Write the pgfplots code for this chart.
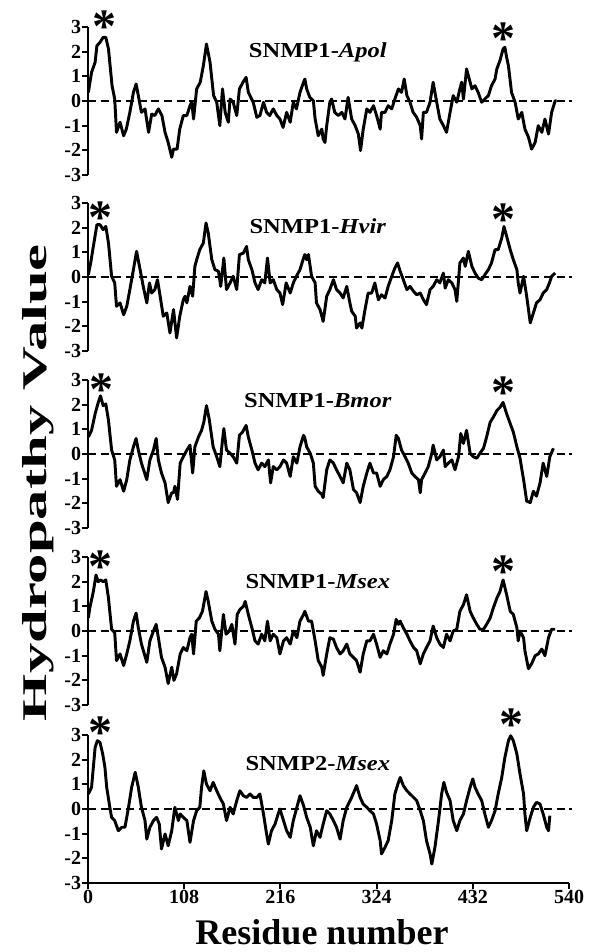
\documentclass[border=0pt]{standalone}
\usepackage{pgfplots}
\pgfplotsset{compat=1.18}
\usepackage{fontspec}
\setmainfont{Liberation Serif}
\usepackage{graphicx}

\newcommand{\ticfont}{\fontsize{15}{15}\selectfont\bfseries}
\newcommand{\ttl}[1]{\scalebox{1.15}[1]{\fontsize{16}{16}\selectfont\bfseries #1}}
\newcommand{\astk}{\fontsize{36}{36}\selectfont\bfseries *}

\pgfplotsset{
  panel/.style={
    scale only axis, width=360.75pt, height=111pt, anchor=south west,
    xmin=0, xmax=540, ymin=-3, ymax=3,
    axis y line*=left,
    ytick={-3,-2,...,3}, yticklabels={-3,-2,-1,0,1,2,3},
    tick align=outside, major tick length=4.5pt,
    axis line style={line width=1.5pt, black},
    major tick style={line width=1.5pt, black},
    yticklabel style={font=\ticfont, inner sep=0.5pt},
    clip=false,
  },
  top/.style={axis x line=none},
  zero/.style={black, line width=1.5pt, dash pattern=on 6pt off 3.5pt},
  curve/.style={black, line width=2.2pt, line join=round},
}
\tikzset{ast/.style={anchor=base, yshift=-17pt, inner sep=0pt}}

\begin{document}
\begin{tikzpicture}
\path[use as bounding box] (0,0) rectangle (442.5pt,-714pt);

% ---- SNMP1-Apol
\begin{axis}[panel, top, at={(66pt,-131.25pt)}]
\addplot[zero] coordinates {(0,0)(543,0)};
\addplot[curve] coordinates {
(0.4,0.35)(4,1.16)(8,1.57)(10,2.24)(13.5,2.38)(17,2.58)(20,2.58)(23,2.11)(27,0.62)(30,0.08)
(32,-1.27)(36,-0.86)(40,-1.41)(43,-1.14)(47,-0.46)(51,0.35)(54,0.69)(56.5,0.22)(60,-0.46)(64,-0.32)
(68,-1.27)(71.5,-0.53)(75,-0.59)(79,-0.32)(83,-0.59)(86.5,-1.27)(90,-1.68)(94,-2.28)(96,-1.95)(100,-1.95)
(103,-1.14)(107,-0.59)(111,-0.59)(114.5,-0.19)(116.5,-0.05)(118.5,-0.73)(122,0.49)(126,0.76)(129.5,1.43)(133,2.31)
(137,1.57)(141,0.22)(144.5,-0.05)(148,-1.0)(151,0.49)(154,-0.46)(157.5,-0.86)(159.5,0.08)(163,-0.05)(167,-0.59)
(170,0.49)(174,0.76)(177.5,0.96)(180,0.35)(185.5,-0.05)(189.5,-0.66)(193,-0.59)(197,-0.05)(200.5,-0.46)(204,-0.59)
(208,-0.32)(212,-0.59)(215.5,-0.73)(219,-1.07)(223,-0.46)(227,-0.86)(230.5,-0.05)(234,-0.32)(238,0.35)(242,0.76)
(243.5,0.89)(245.5,0.49)(249,0.15)(253,0.01)(255,-0.73)(258.5,-1.41)(262.5,-1.14)(264,-1.54)(266,-1.68)(268,-1.0)
(271.5,-0.05)(273.5,0.08)(277,-0.46)(281,-0.59)(285,-0.46)(288.5,-0.73)(292,0.15)(296,-0.73)(300,-1.0)(303.5,-1.34)
(306,-2.01)(309,-1.14)(313,-0.32)(316.5,-0.46)(320.5,-0.19)(324,-0.59)(328,-1.14)(329.5,-0.46)(333.5,-0.46)(337,-0.19)
(341,-0.32)(344.5,0.08)(348.5,0.49)(352,0.35)(355,0.89)(358,0.22)(361.5,-0.05)(365,-0.46)(369,-0.66)(373,-1.0)
(374.5,-1.54)(376.5,-0.46)(380,-0.46)(384,-0.05)(387.5,0.76)(391.5,-0.05)(395,-0.73)(399,-1.0)(402.5,-1.27)(406.5,-0.46)
(410,0.22)(414,-0.05)(417.5,0.49)(419.5,0.76)(421.5,0.08)(425,1.30)(429,0.76)(431,0.49)(434.5,0.62)(438,0.35)
(442,-0.05)(445.5,0.08)(449.5,0.22)(453,0.62)(457,0.89)(459,1.30)(462.5,1.64)(466,2.11)(468,2.18)(470,1.77)
(472,1.43)(475.5,0.35)(479.5,-0.05)(483,-0.73)(487,-0.46)(490.5,-1.14)(494.5,-1.47)(498,-1.95)(502,-1.68)(505.5,-1.0)
(509.5,-1.27)(513,-0.73)(517,-1.34)(520.5,-0.46)(524.5,0.01)(526,0.01)};
\node[ast] at (axis cs:19,3.28) {\astk};
\node[ast] at (axis cs:466,2.8) {\astk};
\node at (axis cs:258,1.97) {\ttl{SNMP1-\textit{Apol}}};
\end{axis}

% ---- SNMP1-Hvir
\begin{axis}[panel, top, at={(66pt,-263.25pt)}]
\addplot[zero] coordinates {(0,0)(543,0)};
\addplot[curve] coordinates {
(0.4,0.09)(3,0.57)(6,1.24)(10,2.12)(13.5,2.12)(17,1.92)(20,2.05)(23,1.38)(26.5,0.03)(30,-0.24)
(32,-1.19)(36,-1.05)(40,-1.53)(43.5,-1.19)(47,-0.51)(51,0.30)(54.5,1.04)(58.5,0.30)(62,-0.38)(66,-1.05)
(69,-0.24)(71.5,-0.65)(75,-0.51)(78,-0.11)(81,-0.78)(84.5,-1.59)(88.5,-1.46)(92,-2.27)(96,-1.32)(99.5,-2.47)
(103,-1.59)(107,-0.92)(109,-0.78)(111,-1.05)(114.5,-0.38)(117.5,-0.78)(120,0.43)(122,0.70)(125.5,1.11)(129.5,1.38)
(132.5,2.19)(135,1.78)(139,0.70)(142.5,0.30)(146.5,0.23)(149,-0.38)(152.5,0.77)(155.5,-0.51)(159.5,-0.24)(163,0.03)
(167,-0.51)(170,0.91)(174.5,0.97)(178,1.24)(180,0.70)(184,0.30)(187.5,-0.24)(191,-0.51)(195,-0.11)(198.5,-0.24)
(201.5,0.77)(204.5,-0.24)(208,-0.11)(212,-0.51)(215.5,-0.65)(218.5,-1.12)(222.5,-0.24)(227,-0.65)(230.5,-0.24)(234,0.03)
(238,0.30)(242,0.77)(243.5,0.91)(245.5,0.70)(247.5,0.91)(251,0.03)(255,-0.24)(256.5,-1.05)(260.5,-1.32)(262.5,-1.59)
(264,-1.80)(268,-0.78)(271.5,-0.51)(275.5,-0.11)(279,-0.51)(283,-0.65)(286.5,-0.85)(290.5,-0.38)(294,-1.05)(296,-1.39)
(300,-1.59)(301.5,-2.07)(305.5,-1.86)(307.5,-2.07)(311,-1.32)(314.5,-0.65)(318.5,-0.65)(322,-0.24)(326,-0.92)(329.5,-0.72)
(333.5,-0.85)(337,-0.38)(341,0.03)(344.5,0.36)(347.5,0.57)(350.5,0.23)(354,-0.11)(358,-0.51)(361.5,-0.38)(365.5,-0.58)
(369,-0.72)(373,-0.65)(376.5,-0.92)(380,-1.12)(384,-0.51)(387.5,-0.38)(391.5,-0.11)(395,-0.24)(399,0.16)(401,-0.45)
(404.5,-0.11)(408.5,-0.24)(412,-0.51)(414,-0.99)(416,-0.11)(417.5,0.57)(421.5,0.77)(423.5,0.43)(427,1.04)(431,0.43)
(434.5,0.16)(438,-0.04)(442,-0.11)(445.5,0.09)(449.5,0.30)(453,0.57)(457,1.11)(460.5,1.11)(464.5,1.58)(467,2.05)
(470,1.65)(474,1.11)(477.5,0.70)(481.5,0.30)(483,-0.24)(485,-0.65)(489,0.03)(492.5,-0.78)(496.5,-1.86)(500,-1.46)
(503.5,-1.05)(507.5,-0.92)(511,-0.65)(515,-0.51)(518,-0.24)(520.5,0.03)(524.5,0.16)};
\node[ast] at (axis cs:13.5,2.7) {\astk};
\node[ast] at (axis cs:466,2.6) {\astk};
\node at (axis cs:258,2.06) {\ttl{SNMP1-\textit{Hvir}}};
\end{axis}

% ---- SNMP1-Bmor
\begin{axis}[panel, top, at={(66pt,-396pt)}]
\addplot[zero] coordinates {(0,0)(543,0)};
\addplot[curve] coordinates {
(0.4,0.69)(4,0.96)(8,1.63)(11.5,2.09)(14,2.36)(17,1.96)(20,2.03)(23,1.36)(26.5,0.16)(30,-0.24)
(32,-1.31)(36,-1.04)(40,-1.51)(43.5,-1.04)(47,-0.24)(51,0.29)(54,0.63)(56.5,0.16)(60,-0.37)(66,-1.04)
(69.5,-0.24)(73.5,0.16)(76.5,0.63)(79,-0.24)(82.5,-0.77)(86.5,-1.17)(90,-1.97)(94,-1.57)(96,-1.57)(97.5,-1.31)
(100.5,-1.84)(103.5,-0.37)(107,-0.11)(111,0.16)(114.5,0.36)(117.5,-0.77)(120,0.29)(124,0.69)(127.5,0.96)(130,1.29)
(133,1.96)(136,1.43)(140.5,0.29)(144.5,-0.11)(148,-0.51)(151,0.56)(152.5,1.03)(155.5,0.16)(159.5,0.03)(163,-0.11)
(167,-0.37)(170,0.76)(173.5,0.89)(177.5,1.16)(180,0.69)(184,0.16)(187.5,-0.37)(191,-0.64)(195,-0.37)(198.5,-0.51)
(202.5,-0.24)(205,-1.17)(208,-0.51)(212,-0.64)(215.5,-0.51)(219.5,-0.24)(223,-0.37)(227,-0.91)(230.5,-0.11)(234.5,-0.37)
(238,0.29)(242,0.76)(243.5,0.63)(245.5,0.29)(249.5,0.03)(253,-0.37)(255,-1.31)(258.5,-1.51)(262.5,-1.64)(264,-1.77)
(268,-0.64)(271.5,-0.24)(275.5,-0.37)(279,-0.64)(283,-0.91)(286.5,-1.17)(290.5,-0.37)(294,-0.64)(298,-1.44)(301.5,-1.57)
(305.5,-1.97)(309,-1.31)(313,-0.77)(316.5,-0.37)(320.5,-0.77)(324,-0.77)(328,-1.31)(331.5,-1.04)(335.5,-0.91)(339,-0.64)
(343,-0.11)(346,0.76)(348.5,0.63)(352,0.16)(356,-0.11)(359.5,-0.37)(363.5,-0.77)(367,-0.91)(371,-1.04)(373,-1.57)
(374.5,-1.04)(378.5,-0.77)(382,-0.51)(386,0.03)(387.5,0.36)(391.5,-0.24)(395,-0.11)(399,0.16)(401,-0.51)(404.5,-0.37)
(408.5,-0.24)(412,-0.64)(416,-0.11)(418.5,0.83)(421.5,0.43)(425,0.96)(429,0.03)(432.5,-0.11)(436.5,-0.17)(440,0.03)
(444,0.23)(447.5,0.69)(451.5,1.29)(455,1.49)(459,1.76)(462.5,1.89)(466,2.09)(470,1.63)(474,1.23)(477.5,0.89)
(481.5,0.29)(485,-0.17)(489,-1.04)(492.5,-1.91)(496.5,-1.97)(500,-1.51)(503.5,-1.71)(507.5,-1.17)(511,-0.37)(515,-0.91)
(518.5,-0.11)(522.5,0.23)};
\node[ast] at (axis cs:15,2.87) {\astk};
\node[ast] at (axis cs:466,2.75) {\astk};
\node at (axis cs:258,2.15) {\ttl{SNMP1-\textit{Bmor}}};
\end{axis}

% ---- SNMP1-Msex
\begin{axis}[panel, top, at={(66pt,-528.75pt)}]
\addplot[zero] coordinates {(0,0)(543,0)};
\addplot[curve] coordinates {
(0.4,0.53)(2,0.93)(6,1.60)(9,2.27)(11.5,2.00)(14,2.07)(17,2.00)(20,2.07)(23,1.33)(26.5,0.07)(30,-0.07)
(32,-1.20)(36,-0.93)(40,-1.40)(43.5,-0.93)(47,-0.40)(51,0.40)(54,0.73)(56.5,0.13)(60,-0.53)(66,-1.27)
(69.5,-0.40)(73.5,0.00)(76.5,0.27)(79,-0.27)(82.5,-1.07)(86.5,-1.47)(90,-2.13)(94,-1.47)(96.5,-2.00)(99.5,-1.73)
(103.5,-0.93)(107,-0.67)(111,-0.80)(114.5,-0.27)(116.5,-0.13)(118.5,-0.93)(121.5,0.40)(125,0.53)(128.5,0.80)(132.5,1.60)
(135,1.20)(139,0.40)(142.5,0.07)(146.5,-0.13)(148,-0.80)(152,0.67)(155,-0.13)(158.5,0.00)(161.5,0.27)(165,-0.53)
(167.5,0.67)(170.5,0.87)(174.5,1.00)(176.5,1.20)(180,0.67)(184,0.13)(187.5,-0.40)(191,-0.53)(195,-0.13)(198.5,-0.40)
(201.5,0.40)(204.5,-0.40)(208,-0.13)(212,-0.27)(215.5,-0.93)(219.5,-0.40)(223,-0.27)(227,-0.53)(230.5,0.00)(234.5,-0.27)
(238,0.40)(242,0.67)(243.5,0.80)(247.5,0.40)(251,0.40)(255,-0.40)(258.5,-1.20)(262.5,-1.47)(264,-1.80)(268,-0.93)
(271.5,-0.27)(275.5,-0.33)(279,-0.67)(283,-0.93)(286.5,-0.80)(290.5,-0.53)(294,-0.93)(298,-1.07)(301.5,-1.20)(305.5,-1.67)
(309,-0.93)(313,-0.40)(316.5,-0.40)(320.5,-0.13)(324,-0.53)(328,-1.07)(331.5,-0.80)(335.5,-0.93)(339,-0.53)(343,-0.13)
(346,0.47)(348.5,0.27)(350.5,0.40)(354,0.13)(358,-0.13)(361.5,-0.40)(365.5,-0.67)(369,-0.80)(373,-1.33)(376.5,-0.93)
(380,-0.67)(384,-0.40)(387.5,0.20)(391.5,-0.27)(395,-0.53)(399,-0.67)(402.5,-0.13)(406.5,-0.40)(410,0.00)(414,0.07)
(417.5,0.80)(421.5,1.07)(425,1.47)(429,0.80)(432.5,0.53)(436.5,0.27)(440,0.07)(444,0.07)(447.5,0.27)(451.5,0.53)
(455,0.93)(459,1.33)(462.5,1.60)(466,2.07)(470,1.47)(474,0.80)(477.5,0.67)(481.5,0.13)(483,-0.40)(485,0.00)
(489,-0.27)(490.5,-0.80)(494.5,-1.53)(498,-1.33)(502,-1.00)(505.5,-0.93)(509.5,-0.73)(513,-1.00)(517,-0.27)(520.5,0.07)
(524.5,0.07)};
\node[ast] at (axis cs:13.5,2.9) {\astk};
\node[ast] at (axis cs:466,2.7) {\astk};
\node at (axis cs:258,2.0) {\ttl{SNMP1-\textit{Msex}}};
\end{axis}

% ---- SNMP2-Msex
\begin{axis}[panel, at={(66pt,-662.25pt)},
  axis x line*=bottom, xtick={0,108,216,324,432,540},
  xticklabels={0,108,216,324,432,540},
  xticklabel style={font=\ticfont, inner sep=1pt}]
\addplot[zero] coordinates {(0,0)(543,0)};
\addplot[curve] coordinates {
(0.4,0.61)(4,0.88)(8,2.50)(10.5,2.77)(13.5,2.70)(16.5,2.23)(19,1.69)(21,0.88)(24.5,0.07)(26.5,-0.34)
(30,-0.47)(34,-0.88)(38,-0.74)(41.5,-0.74)(45.5,0.07)(49,0.88)(53,1.49)(56.5,0.88)(60,0.07)(64,-0.47)
(66,-1.22)(69.5,-0.74)(73.5,-0.47)(77,-0.34)(80,-0.61)(82.5,-1.62)(86.5,-1.01)(90,-1.49)(94,-0.88)(97.5,0.07)
(101.5,-0.47)(103.5,-0.20)(107,-0.34)(111,-0.47)(114.5,-1.35)(118.5,-0.47)(122,-0.07)(125.5,0.07)(127.5,0.88)(130,1.55)
(133,1.01)(137,0.74)(140.5,1.08)(144.5,0.74)(148,0.47)(152,0.20)(155.5,-0.47)(159.5,0.07)(163,-0.20)(167,0.34)
(170.5,0.74)(174.5,0.54)(178,0.47)(182,0.61)(185.5,0.47)(189.5,0.47)(193,0.61)(197,-0.20)(200.5,-1.01)(202.5,-1.42)
(206,-0.88)(210,-0.61)(213.5,-0.20)(215.5,0.00)(219.5,-0.47)(223,-0.88)(227,-1.15)(230.5,-0.47)(234.5,0.07)(238,0.54)
(242,0.14)(245.5,-0.34)(249.5,-0.74)(253,-1.49)(256.5,-0.88)(260.5,-1.15)(264,-0.61)(268,-0.07)(271.5,-0.20)(275.5,-0.47)
(279,-0.74)(283,-1.22)(286.5,-0.47)(290.5,0.07)(296,0.47)(301.5,0.95)(305.5,0.47)(309,0.20)(313,0.07)(316.5,-0.07)
(320.5,-0.20)(324,-0.61)(328,-1.28)(329.5,-1.82)(333.5,-1.55)(337,-1.28)(341,-0.47)(344.5,0.61)(348.5,1.08)(350.5,1.28)
(354,0.95)(358,0.74)(361.5,0.61)(365.5,0.47)(369,0.34)(373,-0.07)(376.5,-0.47)(380,-1.28)(384,-1.82)(386,-2.23)
(389.5,-1.55)(393.5,-0.47)(397,0.61)(399.5,1.08)(402.5,0.68)(406.5,0.34)(410,-0.47)(414,-0.88)(417.5,-0.47)(421.5,-0.20)
(425,0.34)(429,0.88)(432,1.22)(434.5,0.88)(438,0.61)(442,0.34)(445.5,-0.20)(449.5,-0.74)(453,-0.47)(457,-0.07)
(460.5,0.61)(464.5,1.28)(468,2.09)(472,2.77)(474.5,2.97)(477.5,2.77)(481.5,2.23)(485,1.42)(489,0.61)(490.5,-0.20)
(492.5,-0.88)(496.5,-0.34)(500,0.07)(503.5,0.27)(507.5,0.20)(511,-0.20)(515,-0.74)(517,-0.88)(518.5,-0.27)};
\node[ast] at (axis cs:13.5,3.36) {\astk};
\node[ast] at (axis cs:476,3.7) {\astk};
\node at (axis cs:258,1.86) {\ttl{SNMP2-\textit{Msex}}};
\end{axis}

\node at (28.5pt,-362pt) {\rotatebox{90}{\scalebox{1.75}[1]{\fontsize{26}{26}\selectfont\bfseries Hydropathy Value}}};
\node at (241.5pt,-699.5pt) {\fontsize{27}{27}\selectfont\bfseries Residue number};
\end{tikzpicture}
\end{document}
